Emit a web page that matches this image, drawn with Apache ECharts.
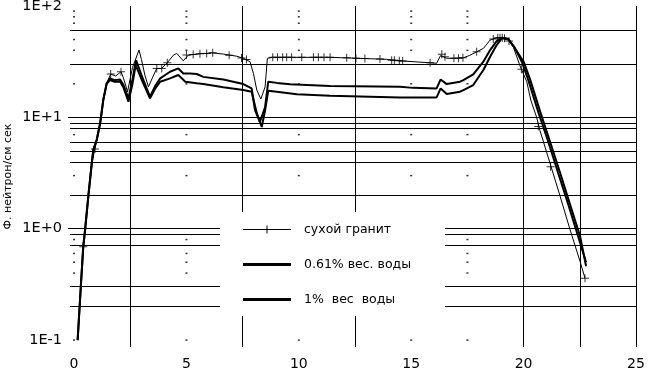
<!DOCTYPE html>
<html><head><meta charset="utf-8">
<script src="https://cdn.jsdelivr.net/npm/echarts@6/dist/echarts.min.js"></script>
<style>html,body{margin:0;padding:0;background:#fff}#c{width:648px;height:369px}</style>
</head><body><div id="c"></div>
<script>
// ---- data (x, flux) ----
const xTickValues = [0, 5, 10, 15, 20, 25];
const yTickValues = [0.1, 1, 10, 100];
const yTickLabels = ['1E-1', '1E+0', '1E+1', '1E+2'];
const yAxisTitle = 'Ф. нейтрон/см сек';
const seriesNames = ['сухой гранит', '0.61% вес. воды', '1%  вес  воды'];

// grid decorations of the original plot
const hGridValues = [60, 30, 10, 9, 8, 6, 5, 4, 2, 1, 0.9, 0.7, 0.3, 0.2];
const vGridValues = [2.5, 7.5, 12.5, 20, 22.5, 25];
const dotColumns = [0, 5, 10, 15, 17.5];
const dotLevels = [90, 80, 70, 50, 40, 20, 7, 3, 0.8, 0.6, 0.5, 0.4, 0.1];
const yTickMarks = [1, 10];

const dryGranite = [
  [0.16,0.10],[0.30,0.30],[0.41,0.69],[0.49,0.97],[0.64,2.0],[0.79,3.9],[0.93,5.2],[1.01,6.3],
  [1.16,8.8],[1.30,14.3],[1.45,20.2],[1.63,24.5],[1.85,23.5],[2.09,25.7],[2.20,22.5],[2.38,17.0],
  [2.60,28],[2.89,40.2],[3.00,33],[3.15,24],[3.31,18.8],[3.50,23],[3.68,27.5],[3.90,27.5],
  [4.15,31],[4.42,36.2],[4.57,37.5],[4.86,32.2],[5.08,36.2],[5.46,37.0],[5.68,37.5],[5.90,37.5],
  [6.13,38.0],[6.64,37.0],[6.94,36.2],[7.24,35.4],[7.53,33.9],[7.83,31.6],[7.98,24.8],[8.13,17.6],
  [8.31,14.6],[8.50,18.8],[8.60,33.9],[8.84,34.6],[9.50,34.6],[10.50,34.6],[11.39,34.6],[12.50,34.0],
  [13.90,33.2],[14.50,32.2],[15.84,30.9],[16.13,30.6],[16.31,36.0],[16.36,36.8],[16.58,33.9],
  [17.00,34.0],[17.32,34.3],[17.60,36.0],[17.91,38.8],[18.21,41.6],[18.51,49.4],[18.80,51.8],
  [19.03,51.8],[19.32,49.4],[19.54,43.0],[19.84,29.0],[20.14,20.9],[20.32,14.3],[20.58,10.0],
  [20.73,7.6],[21.17,3.9],[21.62,1.97],[22.06,0.99],[22.51,0.51],[22.73,0.36]
];
const dryGraniteMarks = [
  [0.41,0.69],[0.93,5.2],[1.63,24.5],[2.09,25.7],[3.68,27.5],[3.90,27.5],[4.15,31],[5.00,36.3],
  [5.30,36.6],[5.60,37.3],[5.90,37.5],[6.17,38.0],[6.90,36.2],[7.45,34.2],[7.67,33.0],[8.84,34.6],
  [9.05,34.6],[9.28,34.6],[9.46,34.6],[9.68,34.6],[10.13,34.6],[10.65,34.6],[10.87,34.6],[11.12,34.6],
  [11.39,34.6],[12.13,34.3],[12.54,34.0],[12.94,33.8],[13.61,33.5],[14.13,32.6],[14.25,32.5],
  [14.47,32.2],[14.62,32.0],[15.84,30.9],[16.36,36.8],[16.50,35.0],[16.90,34.0],[17.10,34.0],
  [17.30,34.3],[17.91,38.8],[18.65,50.5],[18.85,51.8],[18.95,52.0],[19.05,51.8],[19.15,51.3],
  [19.35,48.5],[19.90,27.0],[20.65,8.3],[21.20,3.6],[22.73,0.36]
];
const water061 = [
  [0.16,0.10],[0.30,0.30],[0.41,0.69],[0.49,0.97],[0.64,2.0],[0.79,3.9],[0.86,5.1],[1.01,6.3],
  [1.16,8.8],[1.30,14.3],[1.45,20.2],[1.60,22.4],[1.80,21.6],[2.05,21.9],[2.20,19.5],[2.42,14.8],
  [2.60,22],[2.76,32.7],[3.00,24],[3.38,15.3],[3.60,19],[3.83,22.4],[4.27,25.7],[4.64,27.5],
  [4.86,24.8],[5.16,24.8],[5.46,24.5],[5.75,23.1],[6.64,21.9],[7.53,19.9],[7.90,18.2],[8.05,11.6],
  [8.27,9.1],[8.50,12.4],[8.64,20.9],[9.02,20.4],[9.61,19.8],[11.39,19.1],[14.50,18.8],[15.09,18.4],
  [16.13,18.2],[16.31,21.9],[16.58,19.9],[17.17,20.9],[17.32,21.6],[17.76,24.3],[18.21,31.6],
  [18.51,40.2],[18.80,48.4],[19.03,51.8],[19.32,50.5],[19.62,41.6],[19.92,31.6],[20.21,21.6],
  [20.65,11.2],[21.09,6.1],[21.53,3.2],[21.98,1.67],[22.42,0.86],[22.78,0.50]
];
const water1 = [
  [0.16,0.10],[0.30,0.30],[0.41,0.69],[0.49,0.97],[0.64,2.0],[0.79,3.9],[0.86,5.1],[1.01,6.3],
  [1.16,8.8],[1.30,14.3],[1.45,20.0],[1.60,21.6],[1.80,20.9],[2.05,21.0],[2.20,18.5],[2.42,13.8],
  [2.60,20],[2.74,29.5],[3.00,22],[3.38,14.8],[3.60,18],[3.83,20.9],[4.27,22.4],[4.64,24.0],
  [4.95,20.9],[5.46,20.2],[5.75,19.9],[6.64,18.6],[7.53,17.6],[7.90,17.0],[8.13,10.9],[8.35,8.2],
  [8.50,11.6],[8.64,17.3],[9.02,17.0],[9.91,16.1],[11.39,15.6],[14.50,15.1],[16.13,15.1],[16.31,18.2],
  [16.58,16.2],[17.17,17.0],[17.32,17.6],[17.76,19.5],[18.21,26.6],[18.51,35.0],[18.80,44.6],
  [19.03,51.2],[19.32,50.5],[19.62,41.6],[20.00,31.6],[20.30,21.6],[20.74,11.2],[21.17,6.1],
  [21.62,3.2],[22.06,1.67],[22.51,0.86],[22.78,0.46]
];

// ---- chart ----
const lg = v => Math.log10(v);
const toXY = arr => arr.map(p => [p[0], lg(p[1])]);
const FONT = 'DejaVu Sans';
const crossPath = 'path://M0,3.5H3.5V0H4.5V3.5H8V4.5H4.5V8H3.5V4.5H0Z';

const chart = echarts.init(document.getElementById('c'), null, {renderer: 'canvas'});
chart.setOption({
  animation: false,
  backgroundColor: '#fff',
  textStyle: {fontFamily: FONT, color: '#000'},
  grid: {left: 70, right: 12, top: 6, bottom: 22, containLabel: false, outerBoundsMode: 'none'},
  graphic: {
    elements: [{
      type: 'rect', silent: true, z: 8, zlevel: 0,
      shape: {x: 220, y: 212, width: 225, height: 104},
      style: {fill: '#fff'}
    }]
  },
  xAxis: {
    type: 'value', min: -0.18, max: 25,
    axisLine: {show: false}, axisTick: {show: false}, splitLine: {show: false},
    axisLabel: {customValues: xTickValues, color: '#000', fontSize: 14, margin: 10, fontFamily: FONT}
  },
  yAxis: {
    type: 'value', min: -1.062, max: 2,
    name: yAxisTitle, nameLocation: 'middle', nameGap: 56, nameMoveOverlap: false,
    nameTextStyle: {fontSize: 11, color: '#000', fontFamily: FONT},
    axisLine: {show: false}, splitLine: {show: false},
    axisTick: {show: true, customValues: yTickMarks.map(lg), length: 6, lineStyle: {color: '#000', width: 1}},
    axisLabel: {
      customValues: yTickValues.map(lg), color: '#000', fontSize: 14.5, margin: 8, fontFamily: FONT,
      formatter: val => {
        const i = yTickValues.findIndex(t => Math.abs(lg(t) - val) < 1e-6);
        return i >= 0 ? yTickLabels[i] : '';
      }
    }
  },
  legend: {
    orient: 'vertical', left: 220, top: 212, z: 20,
    padding: [11, 10, 10, 23], itemGap: 22,
    itemWidth: 48, itemHeight: 8,
    selectedMode: false,
    itemStyle: {borderWidth: 0},
    textStyle: {fontFamily: FONT, fontSize: 12.5, color: '#000', padding: [0, 0, 0, 8]},
    data: [
      {name: seriesNames[0], icon: 'path://M0,3.5H48V4.5H0Z M23.5,0H24.5V8H23.5Z'},
      {name: seriesNames[1], icon: 'path://M0,0H48V3H0Z'},
      {name: seriesNames[2], icon: 'path://M0,0H48V3H0Z'}
    ]
  },
  series: [
    {
      type: 'line', name: 'grid', data: [], silent: true, z: 1,
      markLine: {
        z: 1, silent: true, symbol: ['none', 'none'], label: {show: false}, animation: false,
        lineStyle: {color: '#000', width: 1, type: 'solid'},
        emphasis: {disabled: true},
        data: hGridValues.map(v => ({yAxis: lg(v)})).concat(vGridValues.map(x => ({xAxis: x})))
      }
    },
    {
      type: 'scatter', name: 'dots', silent: true, z: 1,
      symbol: 'rect', symbolSize: [2, 1.5],
      itemStyle: {color: '#000'},
      data: dotColumns.flatMap(x => dotLevels.map(v => [x, lg(v)]))
    },
    {
      type: 'line', name: seriesNames[0], data: toXY(dryGranite), z: 4,
      symbol: 'none', color: '#000',
      lineStyle: {color: '#000', width: 1}
    },
    {
      type: 'scatter', name: seriesNames[0], data: toXY(dryGraniteMarks), z: 4,
      symbol: crossPath, symbolSize: 8, itemStyle: {color: '#000', borderWidth: 0}
    },
    {
      type: 'line', name: seriesNames[1], data: toXY(water061), z: 3,
      symbol: 'none', color: '#000',
      lineStyle: {color: '#000', width: 2}
    },
    {
      type: 'line', name: seriesNames[2], data: toXY(water1), z: 3,
      symbol: 'none', color: '#000',
      lineStyle: {color: '#000', width: 2}
    }
  ]
});
</script></body></html>
